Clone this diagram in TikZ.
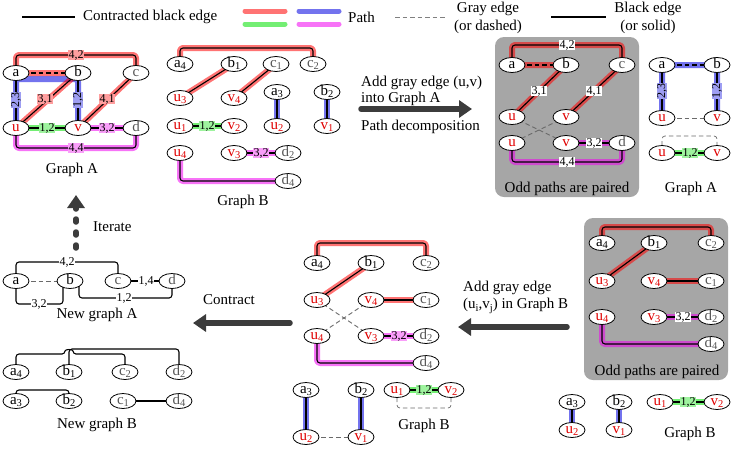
\documentclass[tikz,border=0pt]{standalone}
\usepackage{fontspec}
\setmainfont{Liberation Serif}
\usetikzlibrary{shapes.geometric,arrows.meta}
\definecolor{hred}{HTML}{FF0000}
\definecolor{hblue}{HTML}{0000E0}
\definecolor{hgreen}{HTML}{00E000}
\definecolor{hmag}{HTML}{F000F0}
\definecolor{nred}{HTML}{E00000}
\definecolor{ngray}{HTML}{555555}
\definecolor{boxgray}{HTML}{A6A6A6}
\definecolor{arrgray}{HTML}{3C3C3C}
\definecolor{dgray}{HTML}{6A6A6A}
\pgfdeclarelayer{bg}\pgfdeclarelayer{hl}\pgfdeclarelayer{ln}
\pgfsetlayers{bg,hl,ln,main}
\newcommand\nsub[1]{\raisebox{-0.35ex}{\fontsize{10.5}{10.5}\selectfont #1}}
\newcommand\HL[2]{\begin{pgfonlayer}{hl}\draw[hlt,draw=#1] #2;\end{pgfonlayer}}
\newcommand\LE[2][]{\begin{pgfonlayer}{ln}\draw[blk,#1] #2;\end{pgfonlayer}}
\newcommand\PE[3][]{\HL{#2}{#3}\LE[#1]{#3}}
\tikzset{
 nd/.style={ellipse, draw, line width=0.8pt, fill=white, minimum width=26pt, minimum height=15pt, inner sep=0pt, text height=7pt, text depth=0pt, font=\fontsize{15}{15}\selectfont},
 ur/.style={nd, text=nred},
 cg/.style={nd, text=ngray},
 blk/.style={line width=1.1pt, rounded corners=3pt, line join=round},
 hlt/.style={line width=6pt, opacity=0.55, rounded corners=3pt, line cap=round, line join=round},
 bdash/.style={dash pattern=on 4.5pt off 3pt},
 gdash/.style={draw=dgray, line width=0.9pt, dash pattern=on 4.5pt off 3pt},
 elab/.style={font=\fontsize{12}{12}\selectfont, inner sep=0.5pt, fill=white},
 hb/.style={elab, fill=hblue!38!white},
 hr/.style={elab, fill=hred!38!white},
 hg/.style={elab, fill=hgreen!38!white},
 hm/.style={elab, fill=hmag!38!white},
 txt/.style={font=\fontsize{15}{15}\selectfont, inner sep=0pt},
 bigarrow/.style={line width=5.5pt, draw=arrgray, line cap=round, -{Triangle[length=13pt,width=17pt]}},
 graybox/.style={fill=boxgray, rounded corners=9pt},
}
\begin{document}
\begin{tikzpicture}[x=1pt,y=-1pt]
\useasboundingbox (0,0) rectangle (733,448);
% ---------------- legend
\coordinate (l1a) at (22,17); \coordinate (l1b) at (75,17);
\draw[blk] (l1a) -- (l1b);
\node[txt,anchor=west] (lt1) at (83,17) {Contracted black edge};
\coordinate (lr1) at (245,11); \coordinate (lr2) at (285,11);
\coordinate (lg1) at (245,24); \coordinate (lg2) at (285,24);
\coordinate (lb1) at (299,11); \coordinate (lb2) at (339,11);
\coordinate (lm1) at (299,24); \coordinate (lm2) at (339,24);
\draw[hlt,draw=hred,line width=5pt] (lr1) -- (lr2);
\draw[hlt,draw=hgreen,line width=5pt] (lg1) -- (lg2);
\draw[hlt,draw=hblue,line width=5pt] (lb1) -- (lb2);
\draw[hlt,draw=hmag,line width=5pt] (lm1) -- (lm2);
\node[txt,anchor=west] (lt2) at (348,17) {Path};
\coordinate (ld1) at (395,17); \coordinate (ld2) at (447,17);
\draw[gdash,draw=gray] (ld1) -- (ld2);
\node[txt] (lt3) at (488,9) {Gray edge};
\node[txt] (lt4) at (488,27) {(or dashed)};
\coordinate (ls1) at (551,17); \coordinate (ls2) at (606,17);
\draw[blk] (ls1) -- (ls2);
\node[txt] (lt5) at (648,9) {Black edge};
\node[txt] (lt6) at (648,27) {(or solid)};
% ---------------- gray boxes
\begin{pgfonlayer}{bg}
\fill[graybox] (495,37) rectangle (639,197);
\fill[graybox] (584,218) rectangle (728,380);
\end{pgfonlayer}
% ---------------- Graph A (top left)
\node[nd] (Aa) at (16,73) {a};
\node[nd] (Ab) at (78,73) {b};
\node[cg] (Ac) at (136,73) {c};
\node[ur] (Au) at (16,128) {u};
\node[ur] (Av) at (78,128) {v};
\node[cg] (Ad) at (136,128) {d};
\HL{hblue}{(Au.center) -- (16,79) -- (78,79) -- (Av.center)}
\HL{hred}{(Au.center) -- (Ab.center) -- (Aa.center) -- ++(0,-18) -| (Ac.center) -- (Av.center)}
\PE{hgreen}{(Au.center) -- (Av.center)}
\PE{hmag}{(Av.center) -- (Ad.center)}
\PE{hmag}{(Au.center) -- ++(0,20) -| (Ad.center)}
\LE{(Aa.center) -- (Au.center)}
\LE{(Ab.center) -- (Av.center)}
\LE[bdash]{(Aa.center) -- (Ab.center)}
\LE{(Aa.center) -- ++(0,-18) -| (Ac.center)}
\LE{(Ab.center) -- (Au.center)}
\LE{(Ac.center) -- (Av.center)}
\node[hb,rotate=90] (Al1) at (16,100) {2,3};
\node[hb,rotate=90] (Al2) at (78,100) {1,2};
\node[hr] (Al3) at (76,55) {4,2};
\node[hr] (Al4) at (45,99) {3,1};
\node[hr] (Al5) at (107,99) {4,1};
\node[hg] (Al6) at (47,128) {1,2};
\node[hm] (Al7) at (107,128) {3,2};
\node[hm] (Al8) at (76,148) {4,4};
\node[txt] (At) at (72,170) {Graph A};
% ---------------- Graph B (top middle)
\node[nd] (Ba4) at (180,64) {a\nsub{4}};
\node[nd] (Bb1) at (234,64) {b\nsub{1}};
\node[cg] (Bc1) at (276,64) {c\nsub{1}};
\node[cg] (Bc2) at (313,64) {c\nsub{2}};
\node[ur] (Bu3) at (180,98) {u\nsub{3}};
\node[ur] (Bv4) at (234,98) {v\nsub{4}};
\node[nd] (Ba3) at (277,92) {a\nsub{3}};
\node[nd] (Bb2) at (327,92) {b\nsub{2}};
\node[ur] (Bu1) at (180,126) {u\nsub{1}};
\node[ur] (Bv2) at (234,126) {v\nsub{2}};
\node[ur] (Bu2) at (277,126) {u\nsub{2}};
\node[ur] (Bv1) at (327,126) {v\nsub{1}};
\node[ur] (Bu4) at (180,153) {u\nsub{4}};
\node[ur] (Bv3) at (234,153) {v\nsub{3}};
\node[cg] (Bd2) at (288,153) {d\nsub{2}};
\node[cg] (Bd4) at (288,181) {d\nsub{4}};
\PE{hred}{(Ba4.center) -- ++(0,-16) -| (Bc2.center)}
\PE{hred}{(Bu3.center) -- (Bb1.center)}
\PE{hred}{(Bv4.center) -- (Bc1.center)}
\PE{hblue}{(Ba3.center) -- (Bu2.center)}
\PE{hblue}{(Bb2.center) -- (Bv1.center)}
\PE{hgreen}{(Bu1.center) -- (Bv2.center)}
\PE{hmag}{(Bv3.center) -- (Bd2.center)}
\PE{hmag}{(Bu4.center) |- (Bd4.center)}
\node[hg] (Bl1) at (207,126) {1,2};
\node[hm] (Bl2) at (261,153) {3,2};
\node[txt] (Bt) at (243,202) {Graph B};
% ---------------- top arrow
\coordinate (ar1s) at (361,109); \coordinate (ar1e) at (472,109);
\draw[bigarrow] (ar1s) -- (ar1e);
\node[txt,anchor=west] (art1) at (361,83) {Add gray edge (u,v)};
\node[txt,anchor=west] (art2) at (361,99) {into Graph A};
\node[txt,anchor=west] (art3) at (361,127) {Path decomposition};
% ---------------- top right gray box
\node[nd] (Ta) at (512,65) {a};
\node[nd] (Tb) at (566,65) {b};
\node[cg] (Tc) at (622,65) {c};
\node[ur] (Tu) at (512,117) {u};
\node[ur] (Tv) at (566,117) {v};
\node[ur] (Tu2) at (512,143) {u};
\node[ur] (Tv2) at (566,143) {v};
\node[cg] (Td) at (622,143) {d};
\HL{hred}{(Tu.center) -- (Tb.center) -- (Ta.center) -- ++(0,-20) -| (Tc.center) -- (Tv.center)}
\LE[bdash]{(Ta.center) -- (Tb.center)}
\LE{(Tb.center) -- (Tu.center)}
\LE{(Ta.center) -- ++(0,-20) -| (Tc.center)}
\LE{(Tc.center) -- (Tv.center)}
\LE[gdash]{(Tu.center) -- (Tv2.center)}
\LE[gdash]{(Tv.center) -- (Tu2.center)}
\PE{hmag}{(Tv2.center) -- (Td.center)}
\PE{hmag}{(Tu2.center) -- ++(0,19) -| (Td.center)}
\node[elab] (Tl1) at (567,45) {4,2};
\node[elab] (Tl2) at (539,91) {3,1};
\node[elab] (Tl3) at (594,91) {4,1};
\node[elab] (Tl4) at (594,143) {3,2};
\node[elab] (Tl5) at (567,162) {4,4};
\node[txt] (Tt) at (567,189) {Odd paths are paired};
% ---------------- right Graph A
\node[nd] (Ga) at (662,65) {a};
\node[nd] (Gb) at (717,65) {b};
\node[ur] (Gu) at (662,118) {u};
\node[ur] (Gv) at (717,118) {v};
\node[ur] (Gu2) at (662,153) {u};
\node[ur] (Gv2) at (717,153) {v};
\HL{hblue}{(Gu.center) -- (Ga.center) -- (Gb.center) -- (Gv.center)}
\LE[bdash]{(Ga.center) -- (Gb.center)}
\LE{(Ga.center) -- (Gu.center)}
\LE{(Gb.center) -- (Gv.center)}
\LE[gdash]{(Gu.center) -- (Gv.center)}
\PE{hgreen}{(Gu2.center) -- (Gv2.center)}
\LE[gdash,line width=0.7pt]{(Gu2.center) -- ++(0,-17) -| (Gv2.center)}
\node[hb,rotate=90] (Gl1) at (662,91) {2,3};
\node[hb,rotate=90] (Gl2) at (717,91) {1,2};
\node[hg] (Gl3) at (690,153) {1,2};
\node[txt] (Gt) at (691,189) {Graph A};
% ---------------- bottom right gray box
\node[nd] (Ra4) at (602,243) {a\nsub{4}};
\node[nd] (Rb1) at (654,243) {b\nsub{1}};
\node[cg] (Rc2) at (711,243) {c\nsub{2}};
\node[ur] (Ru3) at (602,281) {u\nsub{3}};
\node[ur] (Rv4) at (654,281) {v\nsub{4}};
\node[cg] (Rc1) at (711,281) {c\nsub{1}};
\node[ur] (Ru4) at (602,317) {u\nsub{4}};
\node[ur] (Rv3) at (654,317) {v\nsub{3}};
\node[cg] (Rd2) at (711,317) {d\nsub{2}};
\node[cg] (Rd4) at (711,344) {d\nsub{4}};
\PE{hred}{(Ra4.center) -- ++(0,-16) -| (Rc2.center)}
\PE{hred}{(Ru3.center) -- (Rb1.center)}
\PE{hred}{(Rv4.center) -- (Rc1.center)}
\PE{hmag}{(Rv3.center) -- (Rd2.center)}
\PE{hmag}{(Ru4.center) |- (Rd4.center)}
\node[elab] (Rl1) at (683,317) {3,2};
\node[txt] (Rt) at (657,372) {Odd paths are paired};
\node[nd] (Ra3) at (572,402) {a\nsub{3}};
\node[ur] (Ru2) at (572,430) {u\nsub{2}};
\node[nd] (Rb2) at (619,402) {b\nsub{2}};
\node[ur] (Rv1) at (619,430) {v\nsub{1}};
\node[ur] (Ru1) at (660,402) {u\nsub{1}};
\node[ur] (Rv2) at (717,402) {v\nsub{2}};
\PE{hblue}{(Ra3.center) -- (Ru2.center)}
\PE{hblue}{(Rb2.center) -- (Rv1.center)}
\PE{hgreen}{(Ru1.center) -- (Rv2.center)}
\node[hg] (Rl2) at (688,402) {1,2};
\node[txt] (Rt2) at (690,434) {Graph B};
% ---------------- left arrow (add gray edge in B)
\coordinate (ar2s) at (567,327); \coordinate (ar2e) at (458,327);
\draw[bigarrow] (ar2s) -- (ar2e);
\node[txt,anchor=west] (a2t1) at (463,288) {Add gray edge};
\node[txt,anchor=west] (a2t2) at (463,306) {(u\nsub{i},v\nsub{j}) in Graph B};
% ---------------- middle bottom Graph B
\node[nd] (Ma4) at (317,263) {a\nsub{4}};
\node[nd] (Mb1) at (371,263) {b\nsub{1}};
\node[cg] (Mc2) at (426,263) {c\nsub{2}};
\node[ur] (Mu3) at (317,300) {u\nsub{3}};
\node[ur] (Mv4) at (371,300) {v\nsub{4}};
\node[cg] (Mc1) at (426,300) {c\nsub{1}};
\node[ur] (Mu4) at (317,336) {u\nsub{4}};
\node[ur] (Mv3) at (371,336) {v\nsub{3}};
\node[cg] (Md2) at (426,336) {d\nsub{2}};
\node[cg] (Md4) at (426,363) {d\nsub{4}};
\PE{hred}{(Ma4.center) -- ++(0,-20) -| (Mc2.center)}
\PE{hred}{(Mu3.center) -- (Mb1.center)}
\PE{hred}{(Mv4.center) -- (Mc1.center)}
\LE[gdash]{(Mu3.center) -- (Mv3.center)}
\LE[gdash]{(Mv4.center) -- (Mu4.center)}
\PE{hmag}{(Mv3.center) -- (Md2.center)}
\PE{hmag}{(Mu4.center) |- (Md4.center)}
\node[hm] (Ml1) at (399,336) {3,2};
\node[nd] (Ma3) at (306,390) {a\nsub{3}};
\node[nd] (Mb2) at (361,390) {b\nsub{2}};
\node[ur] (Mu2) at (306,437) {u\nsub{2}};
\node[ur] (Mv1) at (361,437) {v\nsub{1}};
\node[ur] (Mu1) at (397,390) {u\nsub{1}};
\node[ur] (Mv2) at (451,390) {v\nsub{2}};
\PE{hblue}{(Ma3.center) -- (Mu2.center)}
\PE{hblue}{(Mb2.center) -- (Mv1.center)}
\LE[gdash]{(Mu2.center) -- (Mv1.center)}
\PE{hgreen}{(Mu1.center) -- (Mv2.center)}
\LE[gdash,line width=0.7pt]{(Mu1.center) -- ++(0,18) -| (Mv2.center)}
\node[hg] (Ml2) at (424,390) {1,2};
\node[txt] (Mt) at (424,426) {Graph B};
% ---------------- contract arrow
\coordinate (ar3s) at (290,323); \coordinate (ar3e) at (193,323);
\draw[bigarrow] (ar3s) -- (ar3e);
\node[txt,anchor=west] (a3t) at (203,300) {Contract};
% ---------------- new graph A
\node[nd] (Na) at (16,281) {a};
\node[nd] (Nb) at (70,281) {b};
\node[cg] (Nc) at (118,281) {c};
\node[cg] (Nd) at (172,281) {d};
\LE[gdash]{(Na.center) -- (Nb.center)}
\LE{(Na.center) -- ++(0,-19) -| (Nc.center)}
\LE{(Nc.center) -- (Nd.center)}
\LE{(Na.center) -- ++(0,23) -| ([xshift=-7pt]Nb.center)}
\LE{([xshift=9pt]Nb.center) -- ++(0,17) -| (Nd.center)}
\node[elab] (Nl1) at (67,262) {4,2};
\node[elab] (Nl2) at (146,281) {1,4};
\node[elab] (Nl3) at (39,304) {3,2};
\node[elab] (Nl4) at (124,298) {1,2};
\node[txt] (Nt) at (97,315) {New graph A};
% ---------------- iterate arrow
\coordinate (ar4s) at (76,248); \coordinate (ar4e) at (76,195);
\draw[bigarrow,dash pattern=on 3pt off 10pt] (ar4s) -- (ar4e);
\node[txt,anchor=west] (a4t) at (93,227) {Iterate};
% ---------------- new graph B
\node[nd] (Pa4) at (16,372) {a\nsub{4}};
\node[nd] (Pb1) at (69,372) {b\nsub{1}};
\node[cg] (Pc2) at (125,372) {c\nsub{2}};
\node[cg] (Pd2) at (179,372) {d\nsub{2}};
\node[nd] (Pa3) at (16,401) {a\nsub{3}};
\node[nd] (Pb2) at (69,401) {b\nsub{2}};
\node[cg] (Pc1) at (123,401) {c\nsub{1}};
\node[cg] (Pd4) at (179,401) {d\nsub{4}};
\LE{(Pa4.center) |- (65,354) .. controls (65,349) and (73,349) .. (73,354) -| (Pc2.center)}
\LE{(Pb1.center) -- ++(0,-23) -| (Pd2.center)}
\LE{(Pa3.center) -- ++(0,-11) -| (Pb2.center)}
\LE{(Pc1.center) -- (Pd4.center)}
\node[txt] (Pt) at (97,425) {New graph B};
\end{tikzpicture}
\end{document}
